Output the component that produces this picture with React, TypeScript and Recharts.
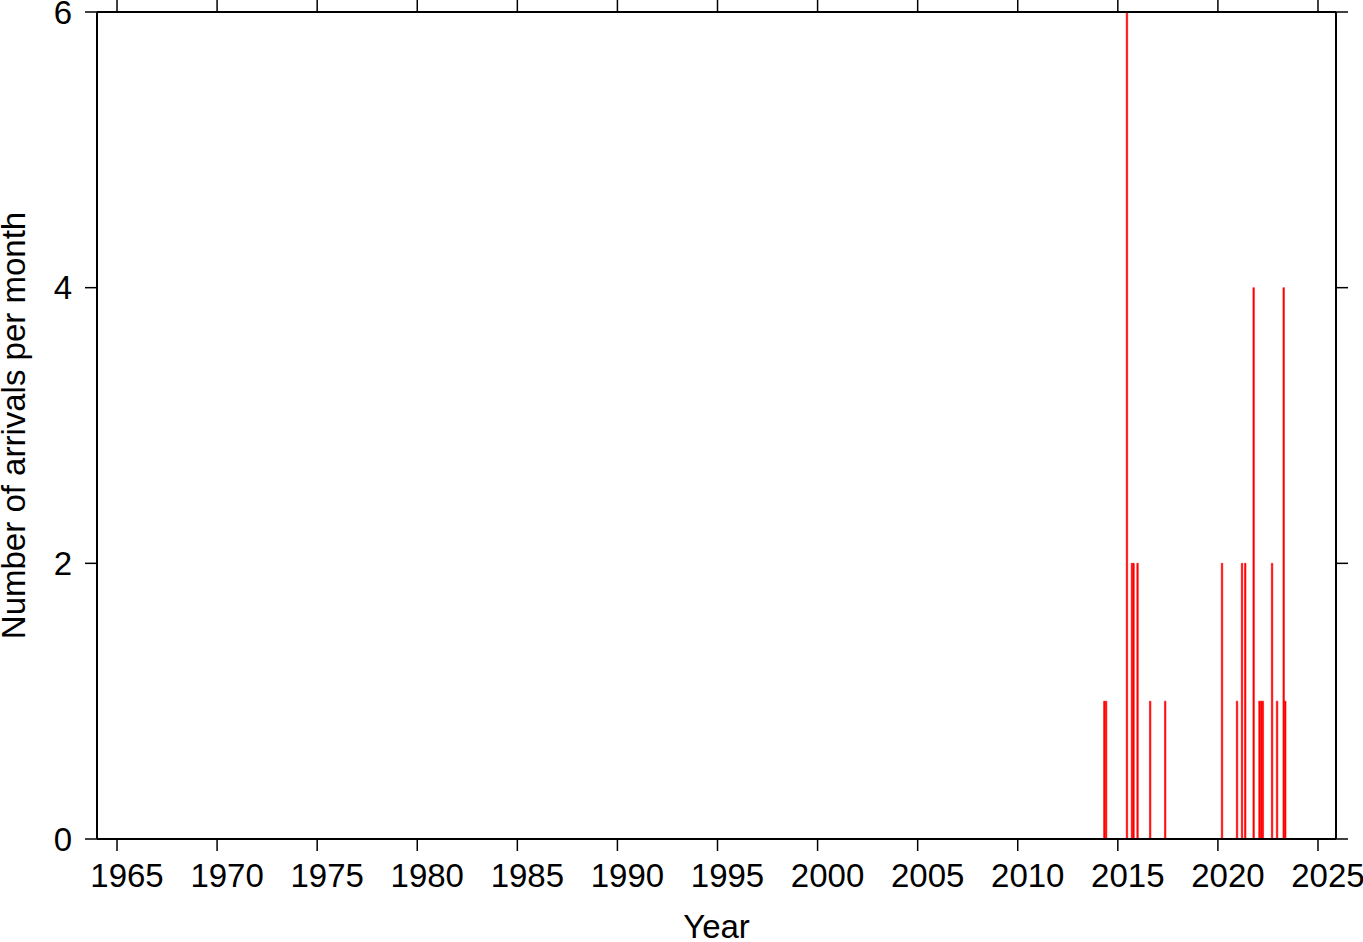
import React from 'react';
import { ComposedChart, Bar, XAxis, YAxis } from 'recharts';

const monthTimes: number[] = [
  2014.33, 2014.42, 2015.46, 2015.71, 2015.79, 2015.99, 2016.62, 2017.37,
  2020.21, 2020.96, 2021.21, 2021.37, 2021.79, 2022.08, 2022.17, 2022.25,
  2022.71, 2022.96, 2023.29, 2023.37,
];
const arrivalCounts: number[] = [
  1, 1, 6, 2, 2, 2, 1, 1,
  2, 1, 2, 2, 4, 1, 1, 1,
  2, 1, 4, 1,
];
const yearTicks: number[] = [1965, 1970, 1975, 1980, 1985, 1990, 1995, 2000, 2005, 2010, 2015, 2020, 2025];
const countTicks: number[] = [0, 2, 4, 6];
const xDomain: [number, number] = [1964.0, 2025.9];
const yDomain: [number, number] = [0, 6];

const data = monthTimes.map((t, i) => ({ t, n: arrivalCounts[i] }));

const FONT = '"Liberation Sans", Arial, Helvetica, sans-serif';
const FS = 33;

const XTick = (props: any) => {
  const { x, y, payload } = props;
  return (
    <text x={x + 10} y={y} dy="0.68em" textAnchor="middle" fontFamily={FONT} fontSize={FS} fill="#000">
      {payload.value}
    </text>
  );
};

const YTick = (props: any) => {
  const { x, y, payload } = props;
  return (
    <text x={x} y={y} dy="0.355em" textAnchor="end" fontFamily={FONT} fontSize={FS} fill="#000">
      {payload.value}
    </text>
  );
};

const YLabel = (props: any) => {
  const vb = props.viewBox || {};
  const cy = vb.y + vb.height / 2;
  const cx = 25;
  return (
    <text x={cx} y={cy} transform={`rotate(-90 ${cx} ${cy})`} textAnchor="middle" fontFamily={FONT} fontSize={FS} fill="#000">
      Number of arrivals per month
    </text>
  );
};

const XLabel = (props: any) => {
  const vb = props.viewBox || {};
  const cx = vb.x + vb.width / 2;
  return (
    <text x={cx} y={938} textAnchor="middle" fontFamily={FONT} fontSize={FS} fill="#000">
      Year
    </text>
  );
};

export default function App() {
  return (
    <div style={{ position: 'absolute', left: 0, top: 0, background: '#fff' }}>
      <ComposedChart width={1363} height={942} data={data} margin={{ top: 0, right: 0, bottom: 0, left: 0 }} barGap={0} barCategoryGap={0}>
        <XAxis
          xAxisId="bottom"
          dataKey="t"
          type="number"
          domain={xDomain}
          ticks={yearTicks}
          allowDataOverflow
          height={103}
          tickSize={12}
          tickMargin={14}
          axisLine={{ stroke: '#000', strokeWidth: 2 }}
          tickLine={{ stroke: '#000', strokeWidth: 1.5 }}
          tick={<XTick />}
          interval={0}
          label={<XLabel />}
        />
        <XAxis
          xAxisId="top"
          orientation="top"
          dataKey="t"
          type="number"
          domain={xDomain}
          ticks={yearTicks}
          allowDataOverflow
          height={12}
          tickSize={12}
          axisLine={{ stroke: '#000', strokeWidth: 2 }}
          tickLine={{ stroke: '#000', strokeWidth: 1.5 }}
          tickFormatter={() => ''}
          interval={0}
        />
        <YAxis
          yAxisId="left"
          type="number"
          domain={yDomain}
          ticks={countTicks}
          allowDataOverflow
          width={97}
          tickSize={12}
          tickMargin={13}
          axisLine={{ stroke: '#000', strokeWidth: 2 }}
          tickLine={{ stroke: '#000', strokeWidth: 1.5 }}
          tick={<YTick />}
          interval={0}
          label={<YLabel />}
        />
        <YAxis
          yAxisId="right"
          orientation="right"
          type="number"
          domain={yDomain}
          ticks={countTicks}
          allowDataOverflow
          width={27}
          tickSize={12}
          axisLine={{ stroke: '#000', strokeWidth: 2 }}
          tickLine={{ stroke: '#000', strokeWidth: 1.5 }}
          tickFormatter={() => ''}
          interval={0}
        />
        <Bar xAxisId="bottom" yAxisId="left" dataKey="n" fill="#ff0000" stroke="#ff0000" strokeWidth={0.6} barSize={2} isAnimationActive={false} />
      </ComposedChart>
    </div>
  );
}
